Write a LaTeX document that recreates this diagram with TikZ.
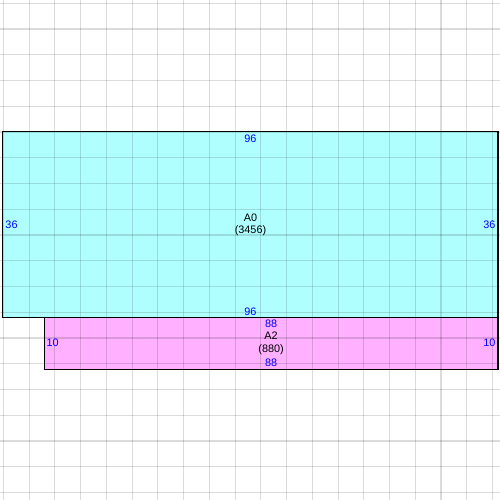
\documentclass[tikz,border=0pt]{standalone}
\usepackage{fontspec}
\setmainfont{Liberation Sans}

\begin{document}
\begin{tikzpicture}[x=0.1cm,y=-0.1cm]
    \definecolor{sheet_cyan}{RGB}{176,255,255}
    \definecolor{sheet_pink}{RGB}{255,176,255}
    \tikzset{
        piece/.style={shape=rectangle,inner sep=0pt,align=center,font=\fontsize{6}{7}\selectfont},
        edge/.style={draw=black,line width=0.6pt},
        dim/.style={text=blue,inner sep=1.2pt,font=\fontsize{6}{7}\selectfont}
    }
    \useasboundingbox (-0.64,-0.64) rectangle (96.45,96.45);
    \node[piece,fill=sheet_cyan,minimum width=9.6cm,minimum height=3.6cm] (A0) at (48,43) {A0\\(3456)};
    \node[piece,fill=sheet_pink,minimum width=8.8cm,minimum height=1cm] (A2) at (52,66) {A2\\(880)};
    % grid over the sheets
    \foreach \g in {0,5,...,95} {
        \draw[black,opacity=0.14,line width=0.6pt] (\g,-0.64) -- (\g,96.45);
        \draw[black,opacity=0.14,line width=0.6pt] (-0.64,\g) -- (96.45,\g);
    }
    \draw[edge] (A0.north west) rectangle (A0.south east);
    \draw[edge] (A2.north west) rectangle (A2.south east);
    % sizes
    \node[dim,anchor=north,yshift=-0.6pt] (A0top) at (A0.north) {96};
    \node[dim,anchor=south] (A0bot) at (A0.south) {96};
    \node[dim,anchor=west] (A0left) at (A0.west) {36};
    \node[dim,anchor=east] (A0right) at (A0.east) {36};
    \node[dim,anchor=north] (A2top) at (A2.north) {88};
    \node[dim,anchor=south] (A2bot) at (A2.south) {88};
    \node[dim,anchor=west] (A2left) at (A2.west) {10};
    \node[dim,anchor=east] (A2right) at (A2.east) {10};
\end{tikzpicture}
\end{document}
